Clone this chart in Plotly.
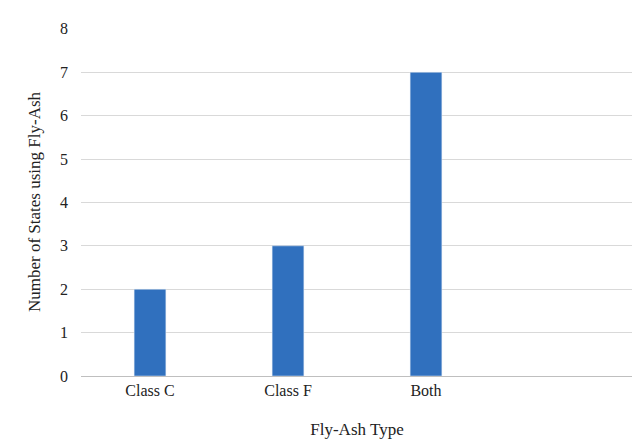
import plotly.graph_objects as go

# categories and values (last slot is empty)
categories = ["Class C", "Class F", "Both", " "]
states = [2, 3, 7, None]
y_ticks = [0, 1, 2, 3, 4, 5, 6, 7, 8]

fig = go.Figure(go.Bar(
    x=categories,
    y=states,
    marker_color="#3070BE",
    width=0.23,
))

fig.update_layout(
    width=640,
    height=440,
    margin=dict(l=73, r=15, t=13, b=72),
    plot_bgcolor="white",
    paper_bgcolor="white",
    font=dict(family="Liberation Serif", size=16, color="#222222"),
    showlegend=False,
)
fig.update_xaxes(
    title_text="Fly-Ash Type",
    title_font_size=17,
    title_standoff=24,
    tickfont_size=16,
    showline=True,
    linecolor="#bfbfbf",
    ticks="",
)
fig.update_yaxes(
    title_text="Number of States using Fly-Ash",
    title_font_size=17,
    tickfont_size=16,
    range=[0, 8.02],
    tickvals=y_ticks,
    showgrid=True,
    gridcolor="#d9d9d9",
    zeroline=False,
    ticks="",
    ticklabelstandoff=12,
)

fig.write_html("out.html")
